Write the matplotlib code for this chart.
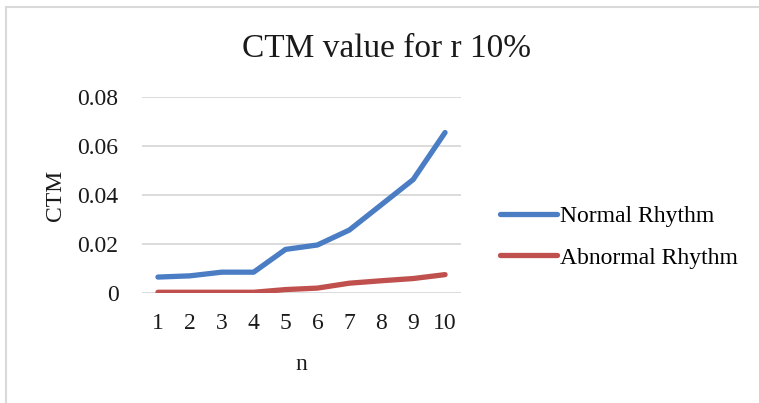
import matplotlib.pyplot as plt
from matplotlib.lines import Line2D

n = [1, 2, 3, 4, 5, 6, 7, 8, 9, 10]
normal = [0.0065, 0.0070, 0.0085, 0.0085, 0.0178, 0.0196, 0.0257, 0.0360, 0.0463, 0.0655]
abnormal = [0.0003, 0.0003, 0.0003, 0.0003, 0.0014, 0.0020, 0.0040, 0.0050, 0.0059, 0.0075]
yticks = [0, 0.02, 0.04, 0.06, 0.08]
ytick_labels = ['0', '0.02', '0.04', '0.06', '0.08']

plt.rcParams['font.family'] = ['Liberation Serif', 'DejaVu Serif']

W, H = 759, 403
fig = plt.figure(figsize=(W / 100, H / 100), dpi=100)
ax = fig.add_axes([142 / W, 1 - 293 / H, 319 / W, 196 / H])

ax.plot(n, normal, color='#4A7DC4', lw=3.8, solid_capstyle='round', label='Normal Rhythm')
ax.plot(n, abnormal, color='#C0504D', lw=3.8, solid_capstyle='round', label='Abnormal Rhythm')

ax.set_xlim(0.5, 10.5)
ax.set_ylim(0, 0.08)
ax.set_xticks(n)
ax.set_yticks(yticks)
ax.set_yticklabels(ytick_labels)
ax.tick_params(length=0, labelsize=17, colors='#1a1a1a')
ax.tick_params(axis='x', pad=14.5)
ax.tick_params(axis='y', pad=17)
ax.grid(axis='y', color='#D9D9D9', lw=1.3)
ax.set_axisbelow(True)
for s in ax.spines.values():
    s.set_visible(False)

ax.set_xlabel('n', fontsize=17, labelpad=14, color='#1a1a1a')
ax.set_ylabel('CTM', fontsize=17, labelpad=8, color='#1a1a1a')

fig.text(386 / W, 1 - 57 / H, 'CTM value for r 10%', fontsize=24,
         ha='center', va='baseline', color='#1a1a1a')

ax.legend(loc='center left', bbox_to_anchor=(500 / W, 1 - 237 / H),
          bbox_transform=fig.transFigure, frameon=False, fontsize=17,
          borderpad=0, borderaxespad=0, handlelength=2.4, handletextpad=0.15,
          labelspacing=0.85)

# chart-area border, top and left edges
fig.add_artist(Line2D([6 / W, 1], [1 - 7 / H, 1 - 7 / H], transform=fig.transFigure,
                      color='#D9D9D9', lw=1.5))
fig.add_artist(Line2D([6 / W, 6 / W], [0, 1 - 7 / H], transform=fig.transFigure,
                      color='#D9D9D9', lw=1.5))

fig.savefig('out.png', dpi=100)
